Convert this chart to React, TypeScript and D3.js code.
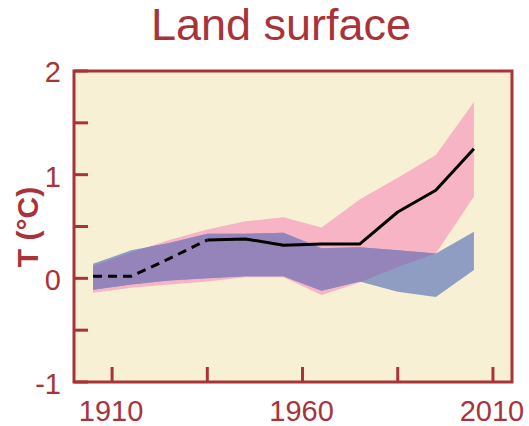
import React from "react";
import * as d3 from "d3";

const years = [1905, 1915, 1925, 1935, 1945, 1955, 1965, 1975, 1985, 1995, 2005];
const pinkTop = [0.12, 0.25, 0.37, 0.47, 0.55, 0.59, 0.49, 0.76, 0.97, 1.19, 1.70];
const pinkBottom = [-0.14, -0.09, -0.06, -0.03, 0.01, 0.01, -0.16, -0.04, 0.11, 0.24, 0.79];
const blueTop = [0.14, 0.27, 0.34, 0.43, 0.43, 0.44, 0.29, 0.30, 0.27, 0.24, 0.45];
const blueBottom = [-0.11, -0.06, -0.02, 0.0, 0.02, 0.02, -0.12, -0.03, -0.13, -0.18, 0.08];
const obsValues = [0.02, 0.02, 0.19, 0.37, 0.38, 0.32, 0.33, 0.33, 0.64, 0.85, 1.25];
const dashedUntil = 1935;

const xTicks = [1910, 1935, 1960, 1985, 2010];
const xLabels = [1910, 1960, 2010];
const yTicks = [-1, -0.5, 0, 0.5, 1, 1.5, 2];
const yLabels = [-1, 0, 1, 2];

const W = 529;
const H = 426;
const RED = "#a8343a";
const FONT = "'Liberation Sans', Arial, Helvetica, sans-serif";

export default function App() {
  const x = d3.scaleLinear().domain([1900, 2015]).range([74, 512]);
  const y = d3.scaleLinear().domain([-1, 2]).range([382, 71]);

  const idx = years.map((_, i) => i);
  const areaGen = (top: number[], bot: number[]) =>
    d3
      .area<number>()
      .x((i) => x(years[i]))
      .y0((i) => y(bot[i]))
      .y1((i) => y(top[i]))(idx) || "";

  const pinkPath = areaGen(pinkTop, pinkBottom);
  const bluePath = areaGen(blueTop, blueBottom);

  const lineGen = d3
    .line<number>()
    .x((i) => x(years[i]))
    .y((i) => y(obsValues[i]));
  const dashedIdx = idx.filter((i) => years[i] <= dashedUntil);
  const solidIdx = idx.filter((i) => years[i] >= dashedUntil);

  const [x0, x1] = x.range();
  const [yb, yt] = y.range();

  return (
    <svg
      width={W}
      height={H}
      style={{ position: "absolute", left: 0, top: 0, background: "#ffffff" }}
      fontFamily={FONT}
    >
      <defs>
        <clipPath id="pinkClip">
          <path d={pinkPath} />
        </clipPath>
      </defs>
      <rect x={x0} y={yt} width={x1 - x0} height={yb - yt} fill="#f8f0d4" />
      <path d={pinkPath} fill="#f7b4c4" />
      <path d={bluePath} fill="#8f9dc3" />
      <path d={bluePath} fill="#9584b9" clipPath="url(#pinkClip)" />
      <path
        d={lineGen(dashedIdx) || ""}
        fill="none"
        stroke="#000"
        strokeWidth={3}
        strokeDasharray="9,6"
      />
      <path d={lineGen(solidIdx) || ""} fill="none" stroke="#000" strokeWidth={3} strokeLinejoin="round" />

      {/* frame */}
      <rect x={x0} y={yt} width={x1 - x0} height={yb - yt} fill="none" stroke={RED} strokeWidth={3} />

      {/* y ticks */}
      {yTicks.map((t) => (
        <line key={"yt" + t} x1={x0} x2={x0 + 14} y1={y(t)} y2={y(t)} stroke={RED} strokeWidth={3} />
      ))}
      {/* x ticks */}
      {xTicks.map((t) => (
        <line key={"xt" + t} x1={x(t)} x2={x(t)} y1={yb} y2={yb - 15} stroke={RED} strokeWidth={3} />
      ))}

      {yLabels.map((t) => (
        <text
          key={"yl" + t}
          x={61}
          y={y(t) + (t === 2 ? 1 : 2)}
          textAnchor="end"
          dominantBaseline="central"
          fontSize={29}
          fill={RED}
        >
          {t === -1 ? "-1" : String(t)}
        </text>
      ))}
      {xLabels.map((t) => (
        <text key={"xl" + t} x={x(t) - 1} y={421} textAnchor="middle" fontSize={29} fill={RED}>
          {t}
        </text>
      ))}

      <text
        transform={`translate(38,227) rotate(-90)`}
        textAnchor="middle"
        fontSize={30}
        fontWeight="bold"
        fill={RED}
      >
        T (°C)
      </text>

      <text x={281} y={40} textAnchor="middle" fontSize={45} fill={RED}>
        Land surface
      </text>
    </svg>
  );
}
